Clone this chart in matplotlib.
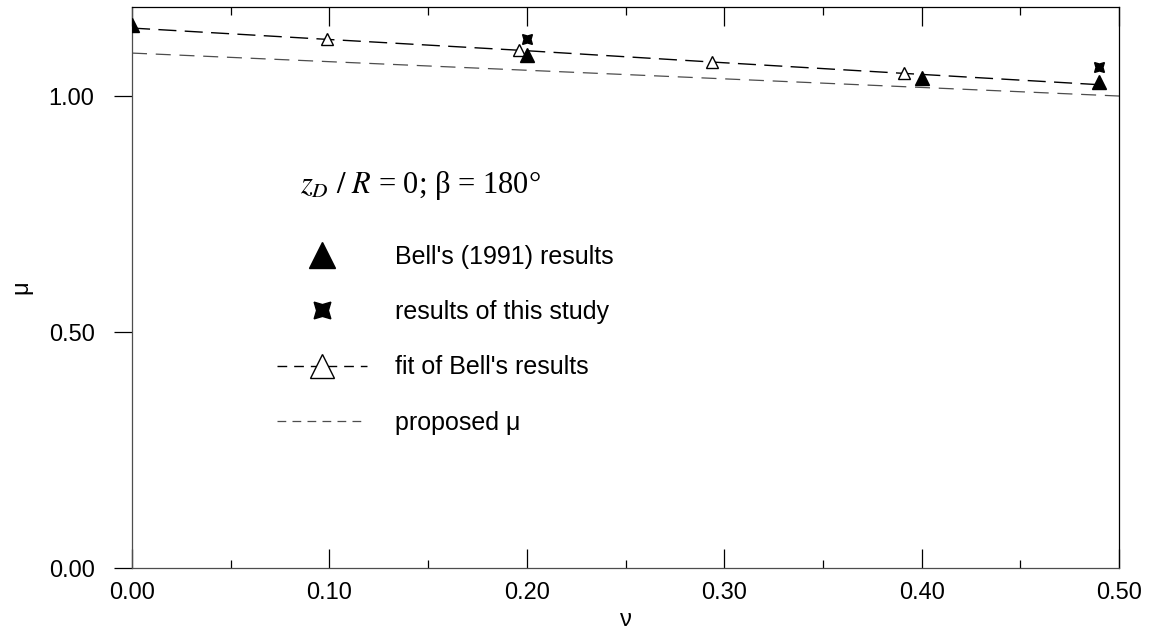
import numpy as np
import matplotlib.pyplot as plt
from matplotlib.lines import Line2D
from matplotlib.ticker import MultipleLocator, FormatStrFormatter

plt.rcParams['font.family'] = ['Liberation Sans', 'DejaVu Sans']
plt.rcParams['mathtext.fontset'] = 'stix'

# ---- data ----
nu_bell = [0.0, 0.2, 0.4, 0.49]
mu_bell = [1.150, 1.087, 1.038, 1.030]

nu_study = [0.2, 0.49]
mu_study = [1.121, 1.061]

nu_fit = [0.0, 0.099, 0.196, 0.294, 0.391, 0.49]
mu_fit = [1.144, 1.120, 1.097, 1.072, 1.048, 1.024]

nu_prop = [0.0, 0.5]
mu_prop = [1.091, 1.000]

fig = plt.figure(figsize=(11.52, 6.38), dpi=100)
ax = fig.add_axes([0.1146, 0.1097, 0.8568, 0.8793])

# proposed mu
ax.plot(nu_prop, mu_prop, color='0.3', lw=0.9, ls=(0, (12, 7)))
# fit of Bell's results
ax.plot(nu_fit, mu_fit, color='k', lw=1.0, ls=(0, (13, 6)),
        marker='^', mfc='white', mec='k', ms=8, mew=1.0, markevery=[1, 2, 3, 4])
# Bell's results
ax.plot(nu_bell, mu_bell, ls='none', marker='^', color='k', ms=10, zorder=5)
# this study
ax.plot(nu_study, mu_study, ls='none', marker=(4, 1, 45), color='k', ms=10, zorder=6)

ax.set_xlim(0, 0.5)
ax.set_ylim(0, 1.1886)
ax.xaxis.set_major_locator(MultipleLocator(0.1))
ax.xaxis.set_minor_locator(MultipleLocator(0.05))
ax.yaxis.set_major_locator(MultipleLocator(0.5))
ax.yaxis.set_minor_locator(MultipleLocator(0.25))
ax.xaxis.set_major_formatter(FormatStrFormatter('%.2f'))
ax.yaxis.set_major_formatter(FormatStrFormatter('%.2f'))

ax.tick_params(axis='x', which='both', direction='in', top=True, bottom=True, labelsize=17, pad=10)
ax.tick_params(axis='x', which='major', length=14, width=0.9)
ax.tick_params(axis='x', which='minor', length=6, width=0.9)
ax.tick_params(axis='y', which='both', direction='out', left=True, right=False, labelsize=17, pad=14)
ax.tick_params(axis='y', which='major', length=13, width=0.9)
ax.tick_params(axis='y', which='minor', length=0)
for s in ax.spines.values():
    s.set_linewidth(0.9)
ax.spines['left'].set_color('0.3')
ax.spines['bottom'].set_color('0.3')

ax.set_xlabel('ν', fontsize=17, labelpad=4)
ax.set_ylabel('μ', fontsize=17, labelpad=12)

ax.text(0.17, 0.682, r'$z_D\ /\ R$ = 0; β = 180°', transform=ax.transAxes,
        fontsize=22, va='center', ha='left', family=['Liberation Serif', 'DejaVu Serif'])

handles = [
    Line2D([], [], ls='none', marker='^', color='k', ms=19),
    Line2D([], [], ls='none', marker=(4, 1, 45), color='k', ms=17),
    Line2D([], [], color='k', lw=1.0, ls=(0, (7, 5)), marker='^', mfc='white', mec='k', ms=17, mew=1.0),
    Line2D([], [], color='0.3', lw=0.9, ls=(0, (7, 5))),
]
labels = ["Bell's (1991) results", 'results of this study', "fit of Bell's results", 'proposed μ']
ax.legend(handles, labels, loc='upper left', bbox_to_anchor=(0.147, 0.576), frameon=False,
          fontsize=18, handlelength=3.6, handletextpad=1.1, labelspacing=1.25,
          borderpad=0, borderaxespad=0)

plt.savefig('out.png', dpi=100)
